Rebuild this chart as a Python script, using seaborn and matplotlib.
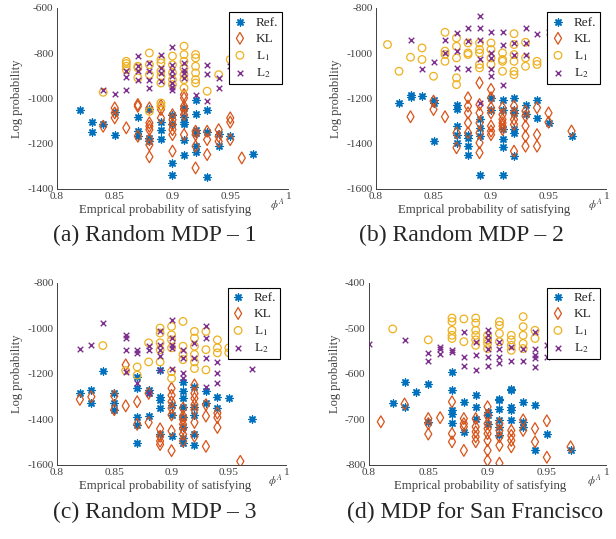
import pandas as pd
import numpy as np
import seaborn as sns
import matplotlib.pyplot as plt

a_ref = {0.82: [-1050], 0.83: [-1102, -1148], 0.84: [-1111], 0.85: [-1160, -1058],
         0.87: [-1082, -1145, -1165], 0.88: [-1046, -1175, -1190], 0.89: [-1105, -1138, -1180],
         0.90: [-1285, -1337, -1075, -1115], 0.91: [-1042, -1080, -1105, -1115, -1182, -1248],
         0.92: [-1005, -1068, -1138, -1152, -1211, -1238], 0.93: [-1052, -1150, -1347],
         0.94: [-1155, -1211], 0.95: [-1168], 0.97: [-1245]}
a_kl = {0.84: [-1123], 0.85: [-1042, -1064, -1086], 0.86: [-1130], 0.87: [-1027, -1035, -1167],
        0.88: [-1042, -1108, -1123, -1138, -1182, -1205, -1258], 0.89: [-1031, -1049, -1086],
        0.90: [-1072, -1094, -1115, -1138, -1160, -1233], 0.91: [-983, -998, -1035, -1049, -1072, -1160],
        0.92: [-1145, -1160, -1211, -1307], 0.93: [-1145, -1182, -1248], 0.94: [-1138, -1168, -1190],
        0.95: [-1086, -1105, -1182], 0.96: [-1263]}
a_l1 = {0.84: [-973], 0.86: [-836, -846, -858, -873], 0.87: [-858, -865, -909],
        0.88: [-799, -851, -895, -1057], 0.89: [-828, -843, -880, -902, -932, -1020, -1035],
        0.90: [-813, -851, -887, -917, -939], 0.91: [-769, -806, -836, -865, -895, -917, -954],
        0.92: [-806, -821, -858, -887, -917, -932], 0.93: [-968], 0.94: [-895], 0.95: [-828]}
a_l2 = {0.84: [-964], 0.85: [-980], 0.86: [-880, -905, -961], 0.87: [-813, -858, -880, -917],
        0.88: [-843, -880, -917, -954], 0.89: [-806, -865, -887, -924],
        0.90: [-774, -851, -880, -902, -932, -949, -961], 0.91: [-843, -873, -887, -909],
        0.92: [-983], 0.93: [-851, -890, -1010], 0.94: [-909, -954], 0.95: [-858]}

b_ref = {0.82: [-1220], 0.83: [-1183, -1193], 0.84: [-1188], 0.85: [-1205, -1220, -1390],
         0.87: [-1227, -1245, -1322, -1360, -1397], 0.88: [-1411, -1448, -1374, -1360],
         0.89: [-1537, -1293, -1330, -1367], 0.90: [-1197, -1249],
         0.91: [-1205, -1249, -1337, -1381, -1414, -1537],
         0.92: [-1197, -1249, -1264, -1337, -1352, -1455], 0.93: [-1227, -1271],
         0.94: [-1208, -1286], 0.95: [-1308], 0.97: [-1367]}
b_kl = {0.83: [-1281], 0.85: [-1212, -1249], 0.86: [-1281], 0.87: [-1352, -1418],
        0.88: [-1197, -1234, -1264, -1308, -1352],
        0.89: [-1131, -1227, -1264, -1308, -1352, -1396, -1440],
        0.90: [-1160, -1197, -1241, -1264, -1322, -1344, -1360],
        0.91: [-1241, -1271, -1293, -1308, -1322, -1337],
        0.92: [-1234, -1264, -1293, -1315, -1433], 0.93: [-1256, -1278, -1322, -1367, -1411],
        0.94: [-1241, -1360, -1411], 0.95: [-1264, -1305], 0.97: [-1344]}
b_l1 = {0.81: [-962], 0.82: [-1080], 0.83: [-1018], 0.84: [-977, -1028], 0.85: [-1102],
        0.86: [-908, -991, -1006, -1036], 0.87: [-933, -970, -1021, -1109, -1139],
        0.88: [-955, -999, -1006], 0.89: [-955, -984, -999, -1050, -1065],
        0.90: [-955, -984, -1021, -1050], 0.91: [-999, -1028, -1036, -1080],
        0.92: [-914, -962, -1006, -1036, -1080, -1095], 0.93: [-952, -1021, -1058],
        0.94: [-1036, -1050]}
b_l2 = {0.83: [-943], 0.84: [-1072], 0.85: [-1041], 0.86: [-943, -999], 0.87: [-910, -991, -1065],
        0.88: [-888, -947, -1072], 0.89: [-834, -888, -940, -1028, -1220],
        0.90: [-907, -999, -1021, -1072, -1102], 0.91: [-905, -962, -1139],
        0.92: [-955, -1006], 0.93: [-888, -955, -1006], 0.94: [-914], 0.95: [-905]}

c_ref = {0.82: [-1285], 0.83: [-1271, -1329], 0.84: [-1185], 0.85: [-1282, -1329, -1357],
         0.87: [-1212, -1263, -1391, -1426, -1503], 0.88: [-1271, -1385, -1285],
         0.89: [-1182, -1300, -1315, -1350, -1465], 0.90: [-1335, -1380, -1474],
         0.91: [-1234, -1276, -1307, -1343, -1391, -1435, -1480, -1503],
         0.92: [-1256, -1343, -1380, -1465, -1510], 0.93: [-1276, -1329],
         0.94: [-1300, -1350], 0.95: [-1307], 0.97: [-1400]}
c_kl = {0.82: [-1312], 0.83: [-1300], 0.85: [-1297, -1357], 0.86: [-1160, -1340],
        0.87: [-1322, -1421], 0.88: [-1285, -1413], 0.89: [-1441, -1474, -1495, -1510],
        0.90: [-1263, -1294, -1322, -1350, -1380, -1450, -1537],
        0.91: [-1350, -1385, -1400, -1421, -1441, -1465, -1495],
        0.92: [-1248, -1285, -1307, -1335, -1357, -1413, -1474],
        0.93: [-1335, -1385, -1518], 0.94: [-1372, -1391, -1435], 0.96: [-1584]}
c_l1 = {0.84: [-1075], 0.86: [-1185], 0.87: [-1169, -1205], 0.88: [-1063, -1147],
        0.89: [-998, -1020, -1063, -1093, -1147],
        0.90: [-991, -1028, -1050, -1085, -1190, -1219], 0.91: [-969, -1078, -1114, -1137],
        0.92: [-1013, -1042, -1078, -1114, -1147, -1176], 0.93: [-1013, -1093, -1182],
        0.94: [-1050, -1085, -1107], 0.95: [-1085, -1107], 0.96: [-1038, -1093]}
c_l2 = {0.82: [-1090], 0.83: [-1071], 0.84: [-974], 0.86: [-1028, -1042, -1093, -1190],
        0.87: [-1093, -1107, -1241], 0.88: [-1078, -1093, -1285],
        0.89: [-1013, -1071, -1093, -1122, -1182], 0.90: [-962, -1042, -1071, -1085, -1176],
        0.91: [-1093, -1129, -1197, -1219], 0.92: [-1063, -1129],
        0.93: [-991, -1042, -1129, -1256], 0.94: [-1147, -1197, -1241], 0.97: [-1176]}

d_ref = {0.82: [-663], 0.83: [-617, -672], 0.84: [-639], 0.85: [-621, -705],
         0.87: [-595, -635, -680, -688, -707], 0.88: [-661, -727], 0.89: [-647, -672, -698],
         0.90: [-684, -691, -710], 0.91: [-654, -658, -676, -701, -716, -735],
         0.92: [-632, -636, -672, -680, -701], 0.93: [-661, -705, -716],
         0.94: [-669, -768], 0.95: [-731], 0.97: [-766]}
d_kl = {0.81: [-705], 0.83: [-666], 0.85: [-698, -709, -732], 0.86: [-696],
        0.87: [-661, -731, -749], 0.88: [-698, -709, -716, -768],
        0.89: [-698, -716, -727, -738, -749],
        0.90: [-672, -691, -709, -720, -731, -746, -768, -790],
        0.91: [-709, -724, -738, -757, -796], 0.92: [-724, -735, -746, -760],
        0.93: [-701, -724], 0.94: [-720, -749], 0.95: [-703, -783], 0.97: [-760]}
d_l1 = {0.82: [-501], 0.85: [-525], 0.87: [-477, -485, -504, -515, -522], 0.88: [-479, -529],
        0.89: [-477, -488, -504, -515, -525, -537], 0.90: [-515, -525, -533, -544],
        0.91: [-485, -493, -511, -529], 0.92: [-515, -525, -537, -548],
        0.93: [-474, -496, -515, -533, -544], 0.94: [-504, -522]}
d_l2 = {0.80: [-534], 0.83: [-525], 0.85: [-553, -572], 0.86: [-540, -546, -555],
        0.87: [-548, -551], 0.88: [-507, -562, -582], 0.89: [-529, -558, -591],
        0.90: [-504, -515, -525, -544, -562, -582], 0.91: [-529, -544, -562, -576],
        0.92: [-540, -572], 0.93: [-544, -572], 0.94: [-507, -544, -558, -565, -585],
        0.95: [-537, -562]}

series_names = ["Ref.", "KL", "L$_1$", "L$_2$"]
colors = ["#0072BD", "#D95319", "#EDB120", "#7E2F8E"]
markers = [(8, 2, 0), "d", "o", "x"]
sizes = [26, 36, 30, 16]

panels = [
    ([a_ref, a_kl, a_l1, a_l2], (-1400, -600), [-1400, -1200, -1000, -800, -600], "(a) Random MDP \u2013 1"),
    ([b_ref, b_kl, b_l1, b_l2], (-1600, -800), [-1600, -1400, -1200, -1000, -800], "(b) Random MDP \u2013 2"),
    ([c_ref, c_kl, c_l1, c_l2], (-1600, -800), [-1600, -1400, -1200, -1000, -800], "(c) Random MDP \u2013 3"),
    ([d_ref, d_kl, d_l1, d_l2], (-800, -400), [-800, -700, -600, -500, -400], "(d) MDP for San Francisco"),
]

# axes rectangles in figure fraction (616 x 539 px)
rects = [
    [0.0925, 0.6494, 0.375, 0.336],
    [0.6104, 0.6494, 0.3734, 0.336],
    [0.0925, 0.1373, 0.372, 0.3377],
    [0.599, 0.1373, 0.385, 0.3377],
]
caption_pos = [(155, 235), (461, 235), (155, 512), (475, 512)]

sns.set_style("white")
plt.rcParams["font.family"] = ["Liberation Serif", "DejaVu Serif"]
plt.rcParams["mathtext.fontset"] = "stix"

fig = plt.figure(figsize=(6.16, 5.39), dpi=100)
axcol = "#404040"

for (groups, ylim, yticks, caption), rect, cpos in zip(panels, rects, caption_pos):
    ax = fig.add_axes(rect)
    for grp, name, col, mk, sz in zip(groups, series_names, colors, markers, sizes):
        xs = [x for x, ys in grp.items() for _ in ys]
        ys = [y for _, vals in grp.items() for y in vals]
        df = pd.DataFrame({"x": xs, "y": ys})
        if mk in ("d", "o"):
            sns.scatterplot(data=df, x="x", y="y", ax=ax, marker=mk, s=sz,
                            color=col, facecolor="none", edgecolor=col, linewidth=0.9, label=name)
        else:
            sns.scatterplot(data=df, x="x", y="y", ax=ax, marker=mk, s=sz,
                            color=col, linewidth=1.0, label=name)
    ax.set_xlim(0.8, 1.0)
    ax.set_ylim(*ylim)
    ax.set_xticks([0.8, 0.85, 0.9, 0.95, 1.0])
    ax.set_xticklabels(["0.8", "0.85", "0.9", "0.95", "1"])
    ax.set_yticks(yticks)
    ax.set_yticklabels([str(v) for v in yticks])
    for s in ["top", "right"]:
        ax.spines[s].set_visible(False)
    for s in ["left", "bottom"]:
        ax.spines[s].set_color(axcol)
        ax.spines[s].set_linewidth(0.7)
    ax.tick_params(direction="in", length=3, width=0.6, colors=axcol, labelsize=8.2, pad=2.5)
    ax.set_xlabel("Emprical probability of satisfying", fontsize=9.2, color=axcol, labelpad=0)
    ax.xaxis.set_label_coords(0.47, -0.085)
    ax.text(0.92, -0.085, "$\\phi^A$", transform=ax.transAxes, fontsize=8, color=axcol,
            ha="left", va="center")
    ax.set_ylabel("Log probability", fontsize=9, color=axcol, labelpad=3)
    leg = ax.legend(loc="upper right", bbox_to_anchor=(0.975, 0.975), borderaxespad=0,
                    fontsize=9.5, frameon=True, fancybox=False, framealpha=1,
                    handlelength=1.0, handletextpad=0.7, borderpad=0.3, labelspacing=0.3)
    leg.get_frame().set_edgecolor("black")
    leg.get_frame().set_linewidth(0.8)
    fig.text(cpos[0] / 616, 1 - cpos[1] / 539, caption, ha="center", va="center", fontsize=17)

fig.savefig("out.png", dpi=100)
